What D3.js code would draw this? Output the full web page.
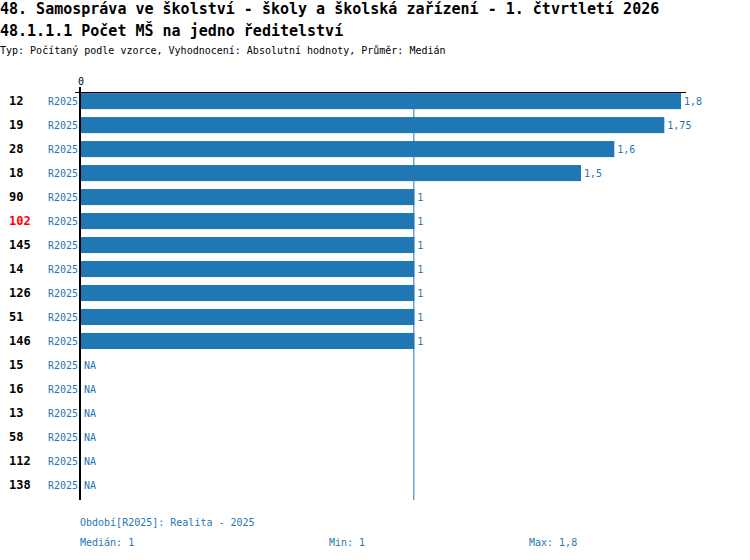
<!DOCTYPE html>
<html lang="cs">
  <head>
    <meta charset="utf-8">
    <title>Počet MŠ na jedno ředitelství</title>
    <style>
      body { margin: 0; background: #fff; }
      svg text { font-family: "DejaVu Sans Mono", monospace; }
      .title { font-size: 15px; font-weight: bold; fill: #000; }
      .sub { font-size: 10px; fill: #000; }
      .rowid { font-size: 12px; font-weight: bold; }
      .blue { font-size: 10px; fill: #1f77b4; }
    </style>
  </head>
  <body>
    <svg id="chart"></svg>

    <script src="https://cdn.jsdelivr.net/npm/d3@7"></script>
    <script>
      // data
      var ids = ["12", "19", "28", "18", "90", "102", "145", "14", "126", "51", "146",
                 "15", "16", "13", "58", "112", "138"];
      var values = [1.8, 1.75, 1.6, 1.5, 1, 1, 1, 1, 1, 1, 1,
                    null, null, null, null, null, null];
      var period = "R2025";
      var highlight = "102";
      var median = 1, minVal = 1, maxVal = 1.8;

      var width = 750, height = 560;
      var blue = "#1f77b4";
      var fmt = function(v) { return String(v).replace(".", ","); };

      var svg = d3.select("#chart")
          .attr("width", width)
          .attr("height", height);

      svg.append("text").attr("class", "title").attr("x", 0).attr("y", 14)
          .text("48. Samospráva ve školství - školy a školská zařízení - 1. čtvrtletí 2026");
      svg.append("text").attr("class", "title").attr("x", 0).attr("y", 36)
          .text("48.1.1.1 Počet MŠ na jedno ředitelství");
      svg.append("text").attr("class", "sub").attr("x", 0).attr("y", 54)
          .text("Typ: Počítaný podle vzorce, Vyhodnocení: Absolutní hodnoty, Průměr: Medián");

      var x = d3.scaleLinear().domain([0, 1.8]).range([81, 681]);
      var y = d3.scaleBand().domain(ids).range([89, 497]).paddingInner(0.33).paddingOuter(0.17);

      var rows = ids.map(function(id, i) { return {id: id, value: values[i]}; });

      // median line
      svg.append("line")
          .attr("x1", x(median) - 0.5).attr("x2", x(median) - 0.5)
          .attr("y1", 92).attr("y2", 500)
          .attr("stroke", blue).attr("stroke-width", 1);

      // bars
      svg.selectAll("rect.bar")
          .data(rows.filter(function(d) { return d.value != null; }))
          .enter().append("rect")
          .attr("class", "bar")
          .attr("x", x(0))
          .attr("y", function(d) { return y(d.id); })
          .attr("width", function(d) { return x(d.value) - x(0); })
          .attr("height", y.bandwidth())
          .attr("fill", blue);

      // value labels
      svg.selectAll("text.val")
          .data(rows)
          .enter().append("text")
          .attr("class", "blue")
          .attr("x", function(d) { return (d.value == null ? x(0) : x(d.value)) + 3; })
          .attr("y", function(d) { return y(d.id) + y.bandwidth() / 2 + 4; })
          .text(function(d) { return d.value == null ? "NA" : fmt(d.value); });

      // period labels
      svg.selectAll("text.per")
          .data(rows)
          .enter().append("text")
          .attr("class", "blue")
          .attr("text-anchor", "end")
          .attr("x", 78)
          .attr("y", function(d) { return y(d.id) + y.bandwidth() / 2 + 4; })
          .text(period);

      // row ids
      svg.selectAll("text.rowid")
          .data(rows)
          .enter().append("text")
          .attr("class", "rowid")
          .attr("x", 9)
          .attr("y", function(d) { return y(d.id) + y.bandwidth() / 2 + 4; })
          .attr("fill", function(d) { return d.id === highlight ? "#ff0000" : "#000"; })
          .text(function(d) { return d.id; });

      // axes
      svg.append("line")
          .attr("x1", 75).attr("x2", 686).attr("y1", 92.5).attr("y2", 92.5)
          .attr("stroke", "#000").attr("stroke-width", 1);
      svg.append("line")
          .attr("x1", x(0) - 1).attr("x2", x(0) - 1).attr("y1", 87).attr("y2", 500)
          .attr("stroke", "#000").attr("stroke-width", 2);
      svg.append("text").attr("class", "sub").attr("text-anchor", "middle")
          .attr("x", x(0)).attr("y", 85).text("0");

      // footer
      svg.append("text").attr("class", "blue").attr("x", 80).attr("y", 526)
          .text("Období[" + period + "]: Realita - 2025");
      svg.append("text").attr("class", "blue").attr("x", 80).attr("y", 546)
          .text("Medián: " + fmt(median));
      svg.append("text").attr("class", "blue").attr("x", 329).attr("y", 546)
          .text("Min: " + fmt(minVal));
      svg.append("text").attr("class", "blue").attr("x", 529).attr("y", 546)
          .text("Max: " + fmt(maxVal));
    </script>
  </body>
</html>
